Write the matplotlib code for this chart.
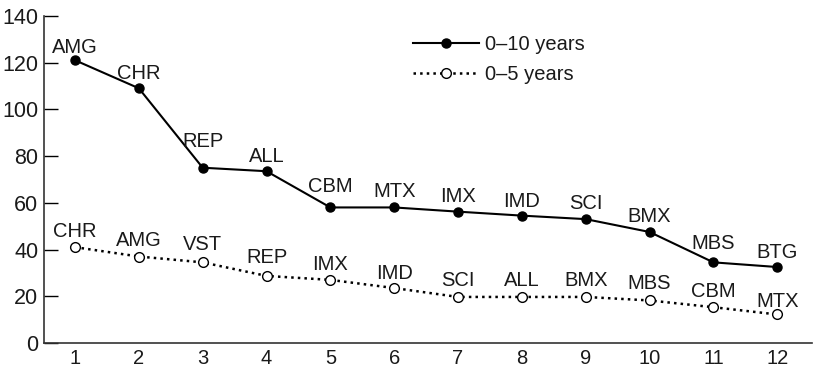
import matplotlib.pyplot as plt

plt.rcParams['font.family'] = ['Liberation Sans', 'DejaVu Sans']
plt.rcParams['text.color'] = '#1a1a1a'

ranks = [1, 2, 3, 4, 5, 6, 7, 8, 9, 10, 11, 12]

ten_year = [121, 109, 75, 73.5, 58, 58, 56.2, 54.5, 53, 47.5, 34.5, 32.5]
ten_labels = ['AMG', 'CHR', 'REP', 'ALL', 'CBM', 'MTX', 'IMX', 'IMD', 'SCI',
              'BMX', 'MBS', 'BTG']

five_year = [41, 37, 34.5, 28.7, 27, 23.5, 19.7, 19.7, 19.7, 18.2, 15.3, 12.2]
five_labels = ['CHR', 'AMG', 'VST', 'REP', 'IMX', 'IMD', 'SCI', 'ALL', 'BMX',
               'MBS', 'CBM', 'MTX']

# label lift above each point (pixels)
ten_lift = [13, 15, 26, 14.5, 21, 16, 15.5, 14.5, 15.5, 15.5, 18.5, 15]
five_lift = [16, 16.5, 18, 18, 15, 15, 16, 16, 16, 17, 16, 13]

fig = plt.figure(figsize=(8.14, 3.68), dpi=100)
ax = fig.add_axes([0.054, 0.068, 0.944, 0.889])

ax.plot(ranks, ten_year, '-', color='black', lw=1.5, marker='o',
        markersize=6.5, markerfacecolor='black', label='0\u201310 years',
        zorder=3)
ax.plot(ranks, five_year, ':', color='black', lw=1.8, marker='o',
        markersize=7, markerfacecolor='white', markeredgewidth=1.0,
        label='0\u20135 years', zorder=3)

for xs, ys, names, lifts in [(ranks, ten_year, ten_labels, ten_lift),
                             (ranks, five_year, five_labels, five_lift)]:
    for x, y, s, d in zip(xs, ys, names, lifts):
        ax.annotate(s, (x, y), xytext=(0, d), textcoords='offset pixels',
                    ha='center', va='center', fontsize=14.5)

ax.set_xlim(0.514, 12.55)
ax.set_ylim(0, 140)
ax.set_xticks(ranks)
ax.set_yticks(range(0, 141, 20))
ax.tick_params(axis='y', direction='in', length=10, width=1, labelsize=15.5,
               pad=4, labelcolor='#1a1a1a')
ax.tick_params(axis='x', length=0, labelsize=14.5, pad=4,
               labelcolor='#1a1a1a')
for side in ['top', 'right']:
    ax.spines[side].set_visible(False)
for side in ['left', 'bottom']:
    ax.spines[side].set_linewidth(1.2)
    ax.spines[side].set_color('#333333')

ax.legend(loc='upper left', bbox_to_anchor=(0.507, 0.905),
          bbox_transform=fig.transFigure, frameon=False, fontsize=14.5,
          handlelength=3.3, handletextpad=0.3, labelspacing=0.55,
          borderpad=0, borderaxespad=0)

fig.savefig('out.png', dpi=100)
